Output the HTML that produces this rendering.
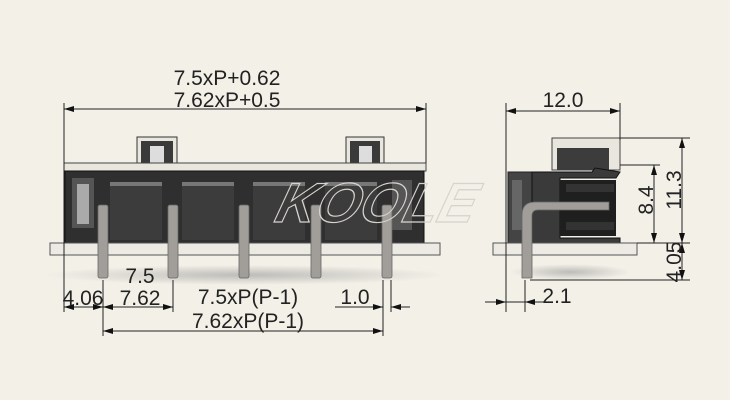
<!DOCTYPE html>
<html><head><meta charset="utf-8"><style>
html,body{margin:0;padding:0;background:#f3f0e8;}
svg{display:block;}
text{font-family:"Liberation Sans",sans-serif;fill:#222;}
</style></head><body>
<svg width="730" height="400" viewBox="0 0 730 400" xmlns="http://www.w3.org/2000/svg">
<defs>
<marker id="a" viewBox="0 0 10 6" refX="10" refY="3" markerWidth="10" markerHeight="6" orient="auto-start-reverse" markerUnits="userSpaceOnUse"><path d="M0,0 L10,3 L0,6z" fill="#111"/></marker>
<radialGradient id="sh" cx="0.5" cy="0.5" r="0.5"><stop offset="0" stop-color="#888" stop-opacity="0.5"/><stop offset="1" stop-color="#888" stop-opacity="0"/></radialGradient>
</defs>
<rect width="730" height="400" fill="#f3f0e8"/>
<ellipse cx="245" cy="275" rx="200" ry="10" fill="url(#sh)"/>
<rect x="137" y="137" width="40" height="34" fill="#e9e6de" stroke="#333"/>
<rect x="141" y="141" width="32" height="30" fill="#3a3a3a"/>
<rect x="150" y="146" width="14" height="25" fill="#ddd"/>
<rect x="346" y="137" width="38" height="34" fill="#e9e6de" stroke="#333"/>
<rect x="350" y="141" width="30" height="30" fill="#3a3a3a"/>
<rect x="359" y="146" width="13" height="25" fill="#ddd"/>
<rect x="64" y="163" width="362" height="8" fill="#e9e6de" stroke="#444" stroke-width="1"/>
<rect x="65" y="171" width="359" height="73" fill="#2f2f2f" stroke="#111"/>
<rect x="72" y="178" width="22" height="50" fill="#555"/>
<rect x="77" y="184" width="12" height="40" fill="#aaa"/>
<rect x="110" y="182" width="52" height="58" fill="#3c3c3c"/>
<rect x="182" y="182" width="52" height="58" fill="#3c3c3c"/>
<rect x="253" y="182" width="52" height="58" fill="#3c3c3c"/>
<rect x="325" y="182" width="52" height="58" fill="#3c3c3c"/>
<rect x="110" y="182" width="52" height="4" fill="#777"/>
<rect x="182" y="182" width="52" height="4" fill="#777"/>
<rect x="253" y="182" width="52" height="4" fill="#777"/>
<rect x="325" y="182" width="52" height="4" fill="#777"/>
<rect x="392" y="180" width="20" height="50" fill="#555"/>
<rect x="50" y="243" width="390" height="12" fill="#eceae3" stroke="#555"/>
<g fill="#a19e99" stroke="#666" stroke-width="0.8">
<rect x="98" y="205" width="10" height="73" rx="2"/>
<rect x="168" y="205" width="10" height="73" rx="2"/>
<rect x="239" y="205" width="10" height="73" rx="2"/>
<rect x="311" y="205" width="10" height="73" rx="2"/>
<rect x="382" y="205" width="10" height="73" rx="2"/>
</g>
<text x="372" y="222" font-size="56" font-style="italic" font-weight="bold" text-anchor="middle" style="fill:none;stroke:#d6d3cc;stroke-width:1.2" transform="skewX(-15) translate(60,0)">KOOLE</text>
<g stroke="#222" stroke-width="1" fill="none">
<line x1="64" y1="103" x2="64" y2="312"/>
<line x1="426" y1="103" x2="426" y2="163"/>
<line x1="64" y1="109" x2="426" y2="109" marker-start="url(#a)" marker-end="url(#a)"/>
<line x1="103" y1="280" x2="103" y2="336"/>
<line x1="173" y1="280" x2="173" y2="312"/>
<line x1="383" y1="280" x2="383" y2="336"/>
<line x1="391" y1="280" x2="391" y2="312"/>
<line x1="64" y1="307" x2="103" y2="307" marker-start="url(#a)" marker-end="url(#a)"/>
<line x1="103" y1="307" x2="173" y2="307" marker-start="url(#a)" marker-end="url(#a)"/>
<line x1="103" y1="331" x2="383" y2="331" marker-start="url(#a)" marker-end="url(#a)"/>
<line x1="335" y1="307" x2="383" y2="307" marker-end="url(#a)"/>
<line x1="410" y1="307" x2="391" y2="307" marker-end="url(#a)"/>
</g>
<g font-size="21">
<text x="227" y="85" text-anchor="middle">7.5xP+0.62</text>
<text x="227" y="107" text-anchor="middle">7.62xP+0.5</text>
<text x="140" y="283" text-anchor="middle">7.5</text>
<text x="83" y="305" text-anchor="middle">4.06</text>
<text x="140" y="305" text-anchor="middle">7.62</text>
<text x="248" y="304" text-anchor="middle">7.5xP(P-1)</text>
<text x="248" y="328" text-anchor="middle">7.62xP(P-1)</text>
<text x="355" y="304" text-anchor="middle">1.0</text>
</g>
<ellipse cx="570" cy="272" rx="60" ry="8" fill="url(#sh)"/>
<rect x="552" y="138" width="68" height="32" fill="#e9e6de" stroke="#444"/>
<rect x="557" y="148" width="52" height="22" fill="#3c3c3c"/>
<rect x="508" y="172" width="44" height="71" fill="#444" stroke="#222"/>
<rect x="512" y="180" width="10" height="50" fill="#666"/>
<path d="M532,172 L592,172 L595,168 L620,172 L616,178 L560,178 L560,238 L620,238 L620,243 L532,243 Z" fill="#3a3a3a" stroke="#111"/>
<rect x="560" y="180" width="56" height="56" fill="#1f1f1f"/>
<rect x="566" y="184" width="48" height="8" fill="#333"/>
<rect x="566" y="222" width="48" height="8" fill="#333"/>
<rect x="493" y="243" width="144" height="12" fill="#eceae3" stroke="#555"/>
<path d="M522,278 L522,215 Q522,202 535,202 L609,202 L609,210 L538,210 Q532,210 532,216 L532,278 Z" fill="#a19e99" stroke="#666" stroke-width="0.8"/>
<g stroke="#222" stroke-width="1" fill="none">
<line x1="506" y1="103" x2="506" y2="312"/>
<line x1="620" y1="103" x2="620" y2="140"/>
<line x1="506" y1="111" x2="620" y2="111" marker-start="url(#a)" marker-end="url(#a)"/>
<line x1="620" y1="138" x2="690" y2="138"/>
<line x1="620" y1="165" x2="660" y2="165"/>
<line x1="637" y1="243" x2="690" y2="243"/>
<line x1="530" y1="280" x2="690" y2="280"/>
<line x1="654" y1="165" x2="654" y2="243" marker-start="url(#a)" marker-end="url(#a)"/>
<line x1="682" y1="138" x2="682" y2="243" marker-start="url(#a)" marker-end="url(#a)"/>
<line x1="682" y1="243" x2="682" y2="280" marker-start="url(#a)" marker-end="url(#a)"/>
<line x1="525" y1="280" x2="525" y2="312"/>
<line x1="485" y1="302" x2="506" y2="302" marker-end="url(#a)"/>
<line x1="506" y1="302" x2="525" y2="302"/>
<line x1="545" y1="302" x2="525" y2="302" marker-end="url(#a)"/>
</g>
<g font-size="21">
<text x="563" y="107" text-anchor="middle">12.0</text>
<text x="557" y="303" text-anchor="middle">2.1</text>
<text transform="translate(653,200) rotate(-90)" text-anchor="middle">8.4</text>
<text transform="translate(681,190) rotate(-90)" text-anchor="middle">11.3</text>
<text transform="translate(681,262) rotate(-90)" text-anchor="middle">4.05</text>
</g>
</svg>
</body></html>
